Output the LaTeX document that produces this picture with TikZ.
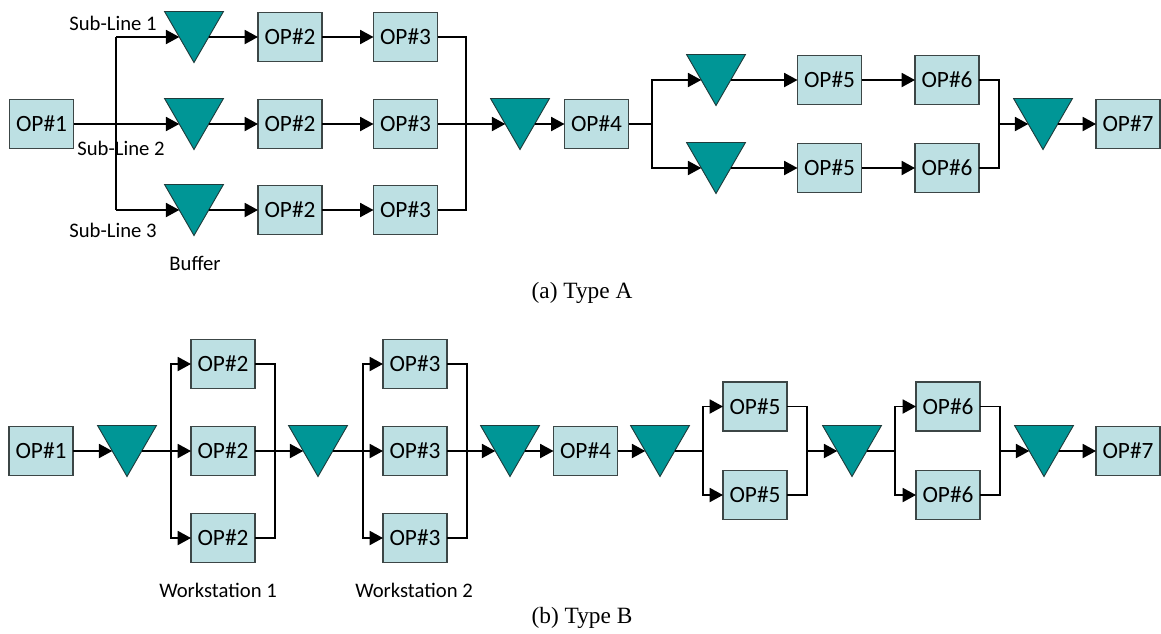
\documentclass[tikz,border=0pt]{standalone}
\usepackage{fontspec}
\setmainfont{Liberation Serif}
\newfontfamily\labfont{Carlito}
\usetikzlibrary{shapes.geometric,arrows.meta,calc}
\definecolor{opfill}{HTML}{BDE0E3}
\definecolor{opdraw}{HTML}{3C4646}
\definecolor{buf}{HTML}{009696}
\definecolor{bufdraw}{HTML}{1E3C3C}
\begin{document}
\begin{tikzpicture}[x=0.75pt,y=-0.75pt,
  op/.style={draw=opdraw, line width=1.1pt, fill=opfill, minimum width=48pt,
    minimum height=36.75pt, inner sep=0pt, outer sep=0pt,
    font=\labfont\fontsize{17.5}{20}\selectfont},
  buffer/.style={regular polygon, regular polygon sides=3, shape border rotate=180,
    draw=bufdraw, line width=0.7pt, fill=buf, minimum size=51pt,
    inner sep=0pt, outer sep=0pt},
  flow/.style={line width=1.4pt, black},
  feed/.style={flow, -{Triangle[length=10pt,width=10.5pt]}},
  lab/.style={font=\labfont\fontsize{15.5}{18}\selectfont, inner sep=0pt},
  figcaption/.style={font=\fontsize{17.5}{20}\selectfont, inner sep=0pt}]
\useasboundingbox (0,0) rectangle (1161,633);

% ---------- Type A: parallel sub-lines ----------
\node[op] (A1) at (41.5,124) {OP\#1};
\foreach \i/\y in {1/37,2/124,3/210}{
  \node[op] (A2\i) at (290,\y) {OP\#2};
  \node[op] (A3\i) at (405.5,\y) {OP\#3};
}
\node[buffer] (tA1) at (194,28.5) {};
\node[buffer] (tA2) at (194,115.5) {};
\node[buffer] (tA3) at (194,201.5) {};
\node[buffer] (tA4) at (520,115.5) {};
\node[op] (A4) at (596.5,124) {OP\#4};
\node[buffer] (tA5) at (716,71.5) {};
\node[buffer] (tA6) at (716,159.5) {};
\node[op] (A51) at (829.5,80) {OP\#5};
\node[op] (A52) at (829.5,168) {OP\#5};
\node[op] (A61) at (947,80) {OP\#6};
\node[op] (A62) at (947,168) {OP\#6};
\node[buffer] (tA7) at (1043,115.5) {};
\node[op] (A7) at (1128,124) {OP\#7};

\coordinate (sA1) at (116,37);
\coordinate (sA3) at (116,210);
\draw[flow] (sA1) -- (sA3);
\draw[feed] (A1.east) -- (tA2.side 3);
\draw[feed] (sA1) -- (tA1.side 3);
\draw[feed] (sA3) -- (tA3.side 3);
\foreach \i in {1,2,3}{
  \draw[feed] (tA\i.side 1) -- (A2\i.west);
  \draw[feed] (A2\i.east) -- (A3\i.west);
}
\coordinate (mA1) at (466,37);
\coordinate (mA3) at (466,210);
\draw[flow] (A31.east) -- (mA1) -- (mA3) -- (A33.east);
\draw[feed] (A32.east) -- (tA4.side 3);
\draw[feed] (tA4.side 1) -- (A4.west);
\coordinate (sC) at (652,124);
\draw[flow] (A4.east) -- (sC);
\draw[feed] (sC) |- (tA5.side 3);
\draw[feed] (sC) |- (tA6.side 3);
\draw[feed] (tA5.side 1) -- (A51.west);
\draw[feed] (tA6.side 1) -- (A52.west);
\draw[feed] (A51.east) -- (A61.west);
\draw[feed] (A52.east) -- (A62.west);
\coordinate (mD) at (999,124);
\draw[flow] (A61.east) -| (mD);
\draw[flow] (A62.east) -| (mD);
\draw[feed] (mD) -- (tA7.side 3);
\draw[feed] (tA7.side 1) -- (A7.west);

\node[lab] (sl1) at (113,23) {Sub-Line 1};
\node[lab] (sl2) at (121,148) {Sub-Line 2};
\node[lab] (sl3) at (113,230) {Sub-Line 3};
\node[lab] (bufl) at (195,263) {Buffer};
\node[figcaption] (capA) at (582,293) {(a) Type A};

% ---------- Type B: parallel workstations ----------
\node[op] (B1) at (41,451) {OP\#1};
\foreach \i/\y in {1/364,2/451,3/538}{
  \node[op] (B2\i) at (223,\y) {OP\#2};
  \node[op] (B3\i) at (415,\y) {OP\#3};
}
\node[buffer] (tB1) at (127,442.5) {};
\node[buffer] (tB2) at (318,442.5) {};
\node[buffer] (tB3) at (510,442.5) {};
\node[op] (B4) at (585.5,451) {OP\#4};
\node[buffer] (tB4) at (660,442.5) {};
\node[op] (B51) at (755,406.5) {OP\#5};
\node[op] (B52) at (755,495) {OP\#5};
\node[buffer] (tB5) at (852,442.5) {};
\node[op] (B61) at (948,406.5) {OP\#6};
\node[op] (B62) at (948,495) {OP\#6};
\node[buffer] (tB6) at (1044,442.5) {};
\node[op] (B7) at (1128,451) {OP\#7};

\draw[feed] (B1.east) -- (tB1.side 3);
% workstation 1
\coordinate (sW1) at (171,451);
\draw[flow] (tB1.side 1) -- (sW1);
\draw[feed] (sW1) |- (B21.west);
\draw[feed] (sW1) -- (B22.west);
\draw[feed] (sW1) |- (B23.west);
\coordinate (mW1) at (275,451);
\draw[flow] (B21.east) -| (mW1);
\draw[flow] (B23.east) -| (mW1);
\draw[feed] (B22.east) -- (tB2.side 3);
% workstation 2
\coordinate (sW2) at (363,451);
\draw[flow] (tB2.side 1) -- (sW2);
\draw[feed] (sW2) |- (B31.west);
\draw[feed] (sW2) -- (B32.west);
\draw[feed] (sW2) |- (B33.west);
\coordinate (mW2) at (467,451);
\draw[flow] (B31.east) -| (mW2);
\draw[flow] (B33.east) -| (mW2);
\draw[feed] (B32.east) -- (tB3.side 3);
\draw[feed] (tB3.side 1) -- (B4.west);
\draw[feed] (B4.east) -- (tB4.side 3);
% workstation 3
\coordinate (sW3) at (703,451);
\draw[flow] (tB4.side 1) -- (sW3);
\draw[feed] (sW3) |- (B51.west);
\draw[feed] (sW3) |- (B52.west);
\coordinate (mW3) at (807,451);
\draw[flow] (B51.east) -| (mW3);
\draw[flow] (B52.east) -| (mW3);
\draw[feed] (mW3) -- (tB5.side 3);
% workstation 4
\coordinate (sW4) at (895,451);
\draw[flow] (tB5.side 1) -- (sW4);
\draw[feed] (sW4) |- (B61.west);
\draw[feed] (sW4) |- (B62.west);
\coordinate (mW4) at (1000,451);
\draw[flow] (B61.east) -| (mW4);
\draw[flow] (B62.east) -| (mW4);
\draw[feed] (mW4) -- (tB6.side 3);
\draw[feed] (tB6.side 1) -- (B7.west);

\node[lab] (ws1) at (218,590) {Workstation 1};
\node[lab] (ws2) at (414,590) {Workstation 2};
\node[figcaption] (capB) at (582,618) {(b) Type B};
\end{tikzpicture}
\end{document}
